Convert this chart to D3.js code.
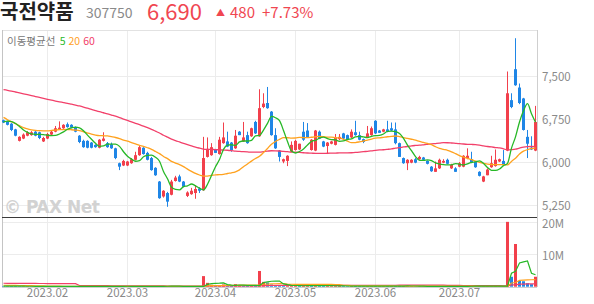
<!DOCTYPE html>
<html><head><meta charset="utf-8">
<script src="https://cdn.jsdelivr.net/npm/d3@7"></script>
<style>
body{margin:0;background:#fff;}
svg{display:block;font-family:"Noto Sans CJK KR","Noto Sans",sans-serif;}
</style>
</head><body>
<svg id="chart" width="594" height="304"></svg>
<script>
// ---------------- DATA ----------------
const stockName = "국전약품";
const stockCode = "307750";
const lastPrice = 6690;
const change = 480;
const changePct = "+7.73%";

const months = ["2023-01","2023-02","2023-03","2023-04","2023-05","2023-06","2023-07"];
const tradingDays = {
  "2023-01":[13,16,17,18,19,20,25,26,27,30,31],
  "2023-02":[1,2,3,6,7,8,9,10,13,14,15,16,17,20,21,22,23,24,27,28],
  "2023-03":[2,3,6,7,8,9,10,13,14,15,16,17,20,21,22,23,24,27,28,29,30,31],
  "2023-04":[3,4,5,6,7,10,11,12,13,14,17,18,19,20,21,24,25,26,27,28],
  "2023-05":[2,3,4,8,9,10,11,12,15,16,17,18,19,22,23,24,25,26,30,31],
  "2023-06":[1,2,5,7,8,9,12,13,14,15,16,19,20,21,22,23,26,27,28,29,30],
  "2023-07":[3,4,5,6,7,10,11,12,13,14,17,18,19,20,21,24,25,26,27,28]
};
const tickMonths = ["2023-02","2023-03","2023-04","2023-05","2023-06","2023-07"];
const tickLabels = ["2023.02","2023.03","2023.04","2023.05","2023.06","2023.07"];

const opens = [6720,6700,6660,6560,6360,6400,6450,6460,6520,6510,6350,
6400,6470,6520,6560,6580,6650,6640,6600,6450,6360,6360,6330,6290,6240,6360,6320,6300,6230,5970,5930,
5930,5970,6030,6110,6240,6150,6060,5890,5650,5390,5450,5420,5660,5740,5650,5400,5430,5450,5530,5500,6080,6110,
6210,6130,6320,6350,6330,6230,6520,6350,6460,6440,6690,6440,6950,7020,6870,6460,6190,6000,6010,6170,
6200,6210,6520,6540,6200,6190,6520,6350,6270,6310,6290,6390,6490,6460,6420,6510,6460,6390,6420,6460,
6710,6540,6520,6560,6580,6560,6320,6060,5970,5980,6040,6040,6070,6010,5910,5820,5880,5980,6030,5880,5880,
5910,5910,6060,6040,6000,5820,5650,5760,5900,5920,6000,6010,6190,7070,7610,7290,7100,6430,6240,6190];
const highs = [6730,6710,6670,6570,6440,6490,6530,6530,6530,6520,6430,
6500,6540,6620,6700,6650,6680,6650,6610,6460,6380,6370,6340,6300,6390,6510,6340,6330,6240,5980,6030,
6010,6060,6170,6270,6250,6170,6080,5900,5660,5500,5470,5680,5750,5770,5660,5480,5540,5590,5550,6430,6420,6320,
6220,6430,6680,6520,6340,6550,6530,6690,6520,6590,6710,7260,7190,7300,6880,6580,6200,6050,6110,6350,
6380,6310,6690,6670,6390,6550,6540,6360,6340,6360,6480,6480,6500,6470,6560,6710,6520,6400,6620,6610,
6720,6550,6570,6710,6680,6680,6330,6070,6040,6040,6060,6100,6080,6020,5920,6000,6050,6040,6050,5960,5900,
5990,6110,6230,6170,6010,5830,5750,5880,6100,6210,6050,6200,7570,7190,8150,7360,7110,6550,6440,6970];
const lows = [6670,6630,6530,6440,6350,6390,6440,6450,6440,6390,6340,
6390,6460,6510,6550,6570,6590,6580,6510,6320,6240,6230,6230,6240,6230,6350,6240,6220,6040,5850,5920,
5920,5960,6020,6100,6120,6020,5840,5750,5350,5370,5210,5410,5650,5640,5550,5380,5420,5350,5450,5490,6070,6100,
6150,6120,6310,6250,6170,6220,6460,6340,6310,6430,6480,6430,6930,6920,6450,6220,6000,5970,5920,6160,
6190,6200,6360,6410,6190,6180,6390,6250,6130,6300,6280,6370,6390,6370,6410,6450,6370,6320,6410,6450,
6480,6500,6510,6510,6530,6300,6080,5960,5850,5970,5970,6030,6020,5950,5820,5820,5870,5970,5950,5870,5820,
5900,5900,6040,5970,5890,5740,5640,5760,5890,5910,5990,5930,6180,6930,7320,7000,6540,6060,6200,6180];
const closes = [6680,6640,6550,6450,6430,6470,6510,6510,6450,6410,6410,
6480,6520,6580,6590,6640,6600,6590,6520,6340,6250,6240,6240,6250,6380,6400,6250,6230,6060,5910,6010,
6000,6040,6110,6250,6130,6030,5850,5760,5360,5490,5300,5650,5720,5650,5560,5460,5490,5520,5490,6060,6220,6250,
6150,6380,6420,6260,6200,6450,6460,6420,6320,6580,6490,6930,7010,6930,6460,6230,6080,6040,6100,6290,
6360,6310,6380,6420,6380,6540,6400,6260,6330,6350,6420,6430,6400,6380,6520,6460,6380,6340,6490,6580,
6490,6500,6560,6520,6540,6320,6080,5970,6030,6030,5980,6080,6030,5960,5830,5880,6030,6010,5960,5940,5820,
5970,6100,6100,5980,5900,5750,5740,5860,5970,6030,6040,5940,7190,6950,7330,7020,6550,6310,6210,6690];
// trading volume, thousands of shares
const volumesK = [150,140,180,170,120,110,120,100,90,110,90,
100,110,130,160,120,100,90,110,150,130,100,90,80,80,120,140,90,90,170,180,
110,90,110,130,100,90,120,110,220,130,180,150,100,90,80,70,70,90,70,3300,1200,600,
300,500,700,400,250,800,300,450,300,350,400,4900,1500,1300,700,500,400,300,280,350,
300,250,500,350,280,400,350,300,250,200,250,220,180,160,200,250,180,150,180,200,
250,180,150,200,180,220,300,250,180,150,120,110,100,120,130,110,140,100,110,100,120,
130,180,200,150,130,170,200,180,160,200,150,180,20200,3100,13300,1800,1700,1100,800,3100];
// sessions before the visible window (needed by the moving averages)
const priorCloses = [7350,7420,7480,7390,7330,7410,7460,7500,7440,7380,7350,7390,7430,7410,7370,7460,
7520,7490,7450,7430,7470,7510,7480,7440,7460,7500,7530,7490,7450,7470,7500,7520,7480,
7600,7680,7750,7820,7760,7700,7660,
7480,7350,7230,7150,7080,6970,
6800,6700,6560,6460,6400,6350,6380,6470,6540,
6620,6680,6720,6700,6740];
const priorVolumesK = [600,550,700,650,500,580,620,540,480,600,700,560,520,640,590,610,530,570,
34000,
900,700,600,550,500,480,520,460,500,450,420,480,510,470,440,430,460,500,420,400,380,
600,620,540,560,500,580,520,560,540,600,520,500,560,480,460,
220,200,180,210,190];

const maPeriods = [5,20,60];
const maColors = ["#27b827","#ffa21f","#f2406a"];
const priceTicks = [5250,6000,6750,7500];
const volumeTicks = [10000000,20000000];

// ---------------- CHART ----------------
const upColor = "#f2404c", downColor = "#1f86e6";
const svg = d3.select("#chart");
const L = 2, R = 537, PT = 30, PB = 217, VT = 217, VB = 287;

const dates = months.flatMap(m => tradingDays[m].map(d => m + "-" + String(d).padStart(2,"0")));
const bars = dates.map((d,i) => ({date:d, o:opens[i], h:highs[i], l:lows[i], c:closes[i],
  v:volumesK[i]*1000, up: closes[i] >= opens[i],
  vUp: closes[i] >= (i ? closes[i-1] : priorCloses[priorCloses.length-1])}));

const x = d3.scaleBand().domain(dates).range([1.5, 537.5]).paddingInner(0.25).paddingOuter(0.125);
const xc = d => x(d) + x.bandwidth()/2;
const y = d3.scaleLinear().domain([5250,7500]).range([204.5,75.5]);
const yv = d3.scaleLinear().domain([0,20000000]).range([286.7,222.5]);

function movingAvg(prior, values, n){
  const all = prior.concat(values), off = prior.length;
  return values.map((_, i) => d3.mean(all.slice(off + i - n, off + i)));
}

// clip paths
const defs = svg.append("defs");
defs.append("clipPath").attr("id","cp").append("rect").attr("x",L).attr("y",PT).attr("width",R-L).attr("height",PB-PT);
defs.append("clipPath").attr("id","cv").append("rect").attr("x",L).attr("y",VT).attr("width",R-L).attr("height",VB-VT);

// grid
const firstOfMonth = tickMonths.map(m => dates.find(d => d.startsWith(m)));
const grid = svg.append("g").attr("stroke","#ececec").attr("stroke-width",1);
firstOfMonth.forEach(d => {
  const gx = Math.floor(xc(d)) + 0.5;
  grid.append("line").attr("x1",gx).attr("x2",gx).attr("y1",PT).attr("y2",VB);
});
priceTicks.forEach(t => grid.append("line").attr("x1",L).attr("x2",R).attr("y1",Math.round(y(t))+0.5).attr("y2",Math.round(y(t))+0.5));
volumeTicks.forEach(t => grid.append("line").attr("x1",L).attr("x2",R).attr("y1",Math.floor(yv(t))+0.5).attr("y2",Math.floor(yv(t))+0.5));

// borders
svg.append("line").attr("x1",L).attr("x2",R).attr("y1",30.5).attr("y2",30.5).attr("stroke","#e2e2e2");
svg.append("line").attr("x1",L+0.5).attr("x2",L+0.5).attr("y1",30).attr("y2",VB).attr("stroke","#c4c4c4");
svg.append("line").attr("x1",R+0.5).attr("x2",R+0.5).attr("y1",30).attr("y2",VB).attr("stroke","#cfcfcf");
svg.append("line").attr("x1",L).attr("x2",R).attr("y1",VB+0.5).attr("y2",VB+0.5).attr("stroke","#cfcfcf");

// watermark
svg.append("text").attr("x",4).attr("y",213).attr("font-size",17).attr("font-weight","bold")
  .attr("fill","#d2d2d2").attr("font-family","'DejaVu Sans',sans-serif").attr("letter-spacing",-0.5).text("© PAX Net");

// legend
const lg = svg.append("text").attr("x",7).attr("y",45).attr("font-size",10.5).attr("fill","#777");
lg.append("tspan").text("이동평균선 ");
maPeriods.forEach((p,k) => lg.append("tspan").attr("fill",maColors[k]).attr("dx",k?3:2).text(p));

// price panel
const pg = svg.append("g").attr("clip-path","url(#cp)");
pg.selectAll("line.wick").data(bars).join("line")
  .attr("x1",d => Math.floor(xc(d.date))+0.5).attr("x2",d => Math.floor(xc(d.date))+0.5)
  .attr("y1",d => y(d.h)).attr("y2",d => y(d.l))
  .attr("stroke",d => d.up ? upColor : downColor);
pg.selectAll("rect.body").data(bars).join("rect")
  .attr("x",d => x(d.date)).attr("width",x.bandwidth())
  .attr("y",d => y(Math.max(d.o,d.c)))
  .attr("height",d => Math.max(1, Math.abs(y(d.o)-y(d.c))))
  .attr("fill",d => d.up ? upColor : downColor);

const line = d3.line().x((d,i) => xc(dates[i])).y(d => y(d)).curve(d3.curveMonotoneX);
[2,1,0].forEach(k => {
  const ma = movingAvg(priorCloses, closes, maPeriods[k]);
  pg.append("path").attr("d", line(ma)).attr("fill","none").attr("stroke",maColors[k]).attr("stroke-width",1.3);
});

// separator
svg.append("line").attr("x1",L).attr("x2",R).attr("y1",217.5).attr("y2",217.5).attr("stroke","#3a3a3a").attr("stroke-width",1.2);

// volume panel
const vg = svg.append("g").attr("clip-path","url(#cv)");
vg.selectAll("rect").data(bars).join("rect")
  .attr("x",d => x(d.date)).attr("width",x.bandwidth())
  .attr("y",d => yv(d.v)).attr("height",d => yv(0) - yv(d.v))
  .attr("fill",d => d.vUp ? upColor : downColor);
const vline = d3.line().x((d,i) => xc(dates[i])).y(d => yv(d*1000));
[2,1,0].forEach(k => {
  const ma = movingAvg(priorVolumesK, volumesK, maPeriods[k]);
  vg.append("path").attr("d", vline(ma)).attr("fill","none").attr("stroke",maColors[k]).attr("stroke-width",1.2);
});

// axes labels
const yAxis = d3.axisRight(y).tickValues(priceTicks).tickSize(0).tickPadding(0).tickFormat(d3.format(","));
const ya = svg.append("g").attr("transform","translate(542,0)").call(yAxis);
const vAxis = d3.axisRight(yv).tickValues(volumeTicks).tickSize(0).tickPadding(0).tickFormat(d => (d/1e6)+"M");
const va = svg.append("g").attr("transform","translate(542,0)").call(vAxis);
const xAxis = d3.axisBottom(x).tickValues(firstOfMonth).tickSize(0).tickPadding(0)
  .tickFormat(d => tickLabels[firstOfMonth.indexOf(d)]);
const xa = svg.append("g").attr("transform","translate(0,289)").call(xAxis);
[ya,va,xa].forEach(g => {
  g.select(".domain").remove();
  g.selectAll("text").attr("fill","#8a8a8a").attr("font-size",11.5)
   .attr("font-family","'Noto Sans CJK KR','Noto Sans',sans-serif");
});
ya.selectAll("text").attr("dy","0.45em");
va.selectAll("text").attr("dy","0.45em");
xa.selectAll("text").attr("dy","0.71em");

// header
svg.append("text").attr("x",0).attr("y",18.5).attr("font-size",20).attr("font-weight","bold").attr("fill","#222").text(stockName);
svg.append("text").attr("x",86).attr("y",18).attr("font-size",14).attr("fill","#8a8a8a").text(stockCode);
svg.append("text").attr("x",147).attr("y",19.5).attr("font-size",22).attr("fill","#f04651").text(d3.format(",")(lastPrice));
svg.append("text").attr("x",216).attr("y",15.5).attr("font-size",9).attr("fill","#f04651").text("▲");
svg.append("text").attr("x",230).attr("y",18).attr("font-size",15).attr("fill","#f04651").text(change);
svg.append("text").attr("x",262).attr("y",18).attr("font-size",15).attr("fill","#f04651").text(changePct);
</script>
</body></html>
